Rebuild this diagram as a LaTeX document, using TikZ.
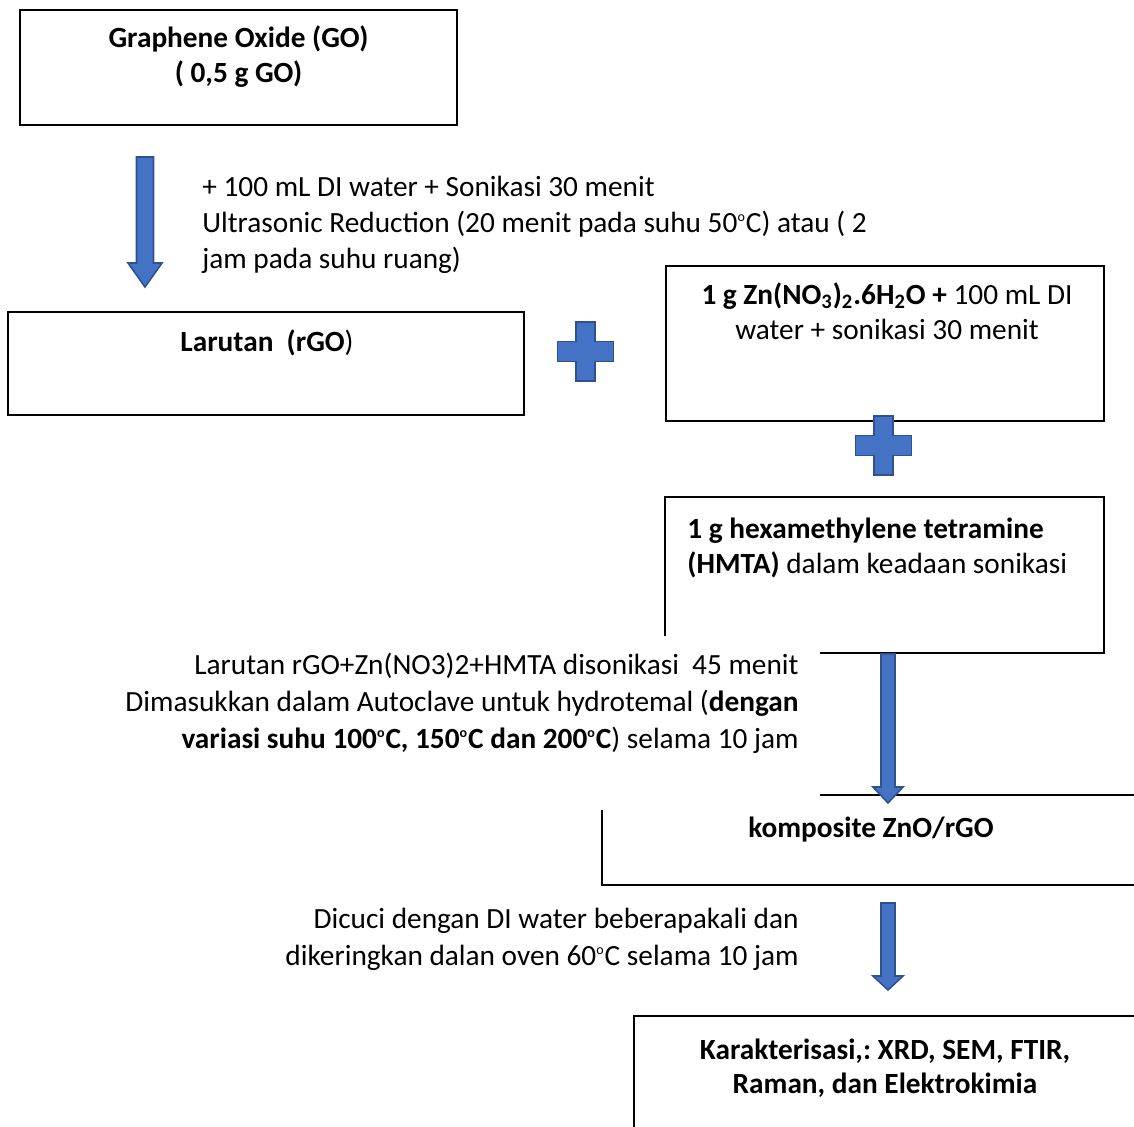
\documentclass[tikz,border=0pt]{standalone}
\usepackage{fontspec}
\setmainfont{Carlito}
\frenchspacing
\usetikzlibrary{calc}
\usetikzlibrary{fit}
\definecolor{flowblue}{RGB}{68,114,196}
\definecolor{flowedge}{RGB}{47,82,143}
\tikzstyle{every node}=[font=\fontsize{14.65}{18}\selectfont,inner sep=0pt]
\tikzstyle{box}=[draw,line width=0.8pt,inner sep=0pt]
\newcommand{\flowarrow}[5]{
	\filldraw[fill=flowblue,draw=flowedge,line width=0.8pt]
	($#1+(-#3,0)$) -- ($#2+(-#3,-#5)$) -- ($#2+(-#4,-#5)$) -- #2
	-- ($#2+(#4,-#5)$) -- ($#2+(#3,-#5)$) -- ($#1+(#3,0)$) -- cycle;
}
\newcommand{\plussign}[2]{
	\coordinate (#2) at #1;
	\filldraw[fill=flowblue,draw=flowedge,line width=0.8pt]
	($(#2)+(-9.5,-29.5)$) -- ($(#2)+(9.5,-29.5)$) -- ($(#2)+(9.5,-10)$)
	-- ($(#2)+(28,-10)$) -- ($(#2)+(28,10)$) -- ($(#2)+(9.5,10)$)
	-- ($(#2)+(9.5,29.5)$) -- ($(#2)+(-9.5,29.5)$) -- ($(#2)+(-9.5,10)$)
	-- ($(#2)+(-28,10)$) -- ($(#2)+(-28,-10)$) -- ($(#2)+(-9.5,-10)$) -- cycle;
}
\newcommand{\degc}{\textsuperscript{\scriptsize o}C}

\begin{document}
\begin{tikzpicture}[x=0.5pt,y=-0.5pt]
	\clip (0,0) rectangle (1134,1126);
	
	% boxes
	\node[box,fit={(20,10) (457,125)}] (go) {};
	\node[box,fit={(8,312) (524,415)}] (rgo) {};
	\node[box,fit={(666,266) (1104,421)}] (zn) {};
	\node[box,fit={(665,497) (1104,653)}] (hmta) {};
	\node[box,fit={(602,795) (1140,885)}] (komp) {};
	\node[box,fit={(634,1016) (1136,1140)}] (karak) {};
	
	% box texts (base = last line)
	\node[anchor=base,align=center,font=\fontsize{14.65}{17.5}\selectfont] (gotext) at (238.5,82)
		{\textbf{Graphene Oxide (GO)}\\\textbf{( 0,5 g GO)}};
	\node[anchor=base] (rgotext) at (267,351) {\textbf{Larutan\ \ (rGO})};
	\node[anchor=base,align=center,font=\fontsize{14.65}{17.5}\selectfont] (zntext) at (887,339)
		{\textbf{1 g Zn(NO\textsubscript{3})\textsubscript{2}.6H\textsubscript{2}O +} 100 mL DI\\water + sonikasi 30 menit};
	\node[anchor=base west,align=left,font=\fontsize{14.65}{17.5}\selectfont] (hmtatext) at (687,573)
		{\textbf{1 g hexamethylene tetramine}\\\textbf{(HMTA)} dalam keadaan sonikasi};
	\node[anchor=base] (komptext) at (871,837) {\textbf{komposite ZnO/rGO}};
	\node[anchor=base,align=center,font=\fontsize{14.65}{17}\selectfont] (karaktext) at (885,1093)
		{\textbf{Karakterisasi,: XRD, SEM, FTIR,}\\\textbf{Raman, dan Elektrokimia}};
	
	% step texts
	\node[anchor=base west,align=left] (step1) at (202,268)
		{+ 100 mL DI water + Sonikasi 30 menit\\
		Ultrasonic Reduction (20 menit pada suhu 50\degc) atau ( 2\\
		jam pada suhu ruang)};
	\fill[white] (110,636) rectangle (820,810);
	\node[anchor=base east,align=right,font=\fontsize{14.65}{18.3}\selectfont] (step2) at (799,748)
		{Larutan rGO+Zn(NO3)2+HMTA disonikasi\ \ 45 menit\\
		Dimasukkan dalam Autoclave untuk hydrotemal (\textbf{dengan}\\
		\textbf{variasi suhu 100\degc, 150\degc\ dan 200\degc}) selama 10 jam};
	\node[anchor=base east,align=right,font=\fontsize{14.65}{18.5}\selectfont] (step3) at (799,965)
		{Dicuci dengan DI water beberapakali dan\\
		dikeringkan dalan oven 60\degc\ selama 10 jam};
	
	% arrows
	\coordinate (arr1top) at (145,157);
	\coordinate (arr1tip) at (145,287);
	\flowarrow{(arr1top)}{(arr1tip)}{8.5}{17}{24}
	\coordinate (arr2top) at (hmta.south -| 888,0);
	\coordinate (arr2tip) at (888,803);
	\flowarrow{(arr2top)}{(arr2tip)}{7}{15}{16}
	\coordinate (arr3top) at (888,903);
	\coordinate (arr3tip) at (888,990);
	\flowarrow{(arr3top)}{(arr3tip)}{7}{15}{14}
	
	% plus signs
	\plussign{(585.5,351.5)}{plusA}
	\plussign{(883.5,445.5)}{plusB}
\end{tikzpicture}
\end{document}
